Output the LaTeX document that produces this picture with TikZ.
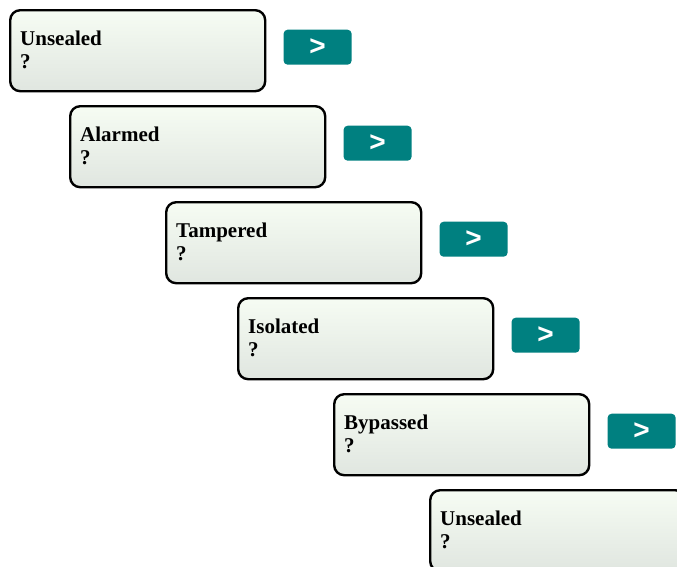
\documentclass[tikz,border=0pt]{standalone}
\usepackage{fontspec}
\setmainfont{Liberation Serif}
\newfontfamily\btnfont{Liberation Sans}
\usetikzlibrary{positioning, calc}
\definecolor{boxtop}{RGB}{246, 252, 243}
\definecolor{boxbottom}{RGB}{224, 230, 224}
\definecolor{btnteal}{RGB}{0, 128, 128}

\begin{document}
\begin{tikzpicture}[
  x=1pt, y=-1pt,
  statebox/.style={draw=black, line width=2.4pt, rounded corners=10pt,
    top color=boxtop, bottom color=boxbottom,
    minimum width=255pt, minimum height=81pt, inner sep=0pt, anchor=north west},
  statetext/.style={anchor=base west, align=left, inner sep=0pt,
    font=\fontsize{21}{23}\selectfont\bfseries},
  nextbtn/.style={fill=btnteal, rounded corners=4pt, minimum width=68pt,
    minimum height=35pt, inner sep=0pt, text=white,
    font=\btnfont\fontsize{28}{28}\selectfont\bfseries}
]
  \useasboundingbox (0,0) rectangle (677,566);
  \clip (0,0) rectangle (677,566);

  % States
  \foreach \i/\x/\y/\lbl in {1/9/9/Unsealed, 2/69/105/Alarmed, 3/165/201/Tampered,
      4/237/297/Isolated, 5/333/393/Bypassed, 6/429/489/Unsealed} {
    \node[statebox] (s\i) at (\x, \y) {};
    \node[statetext] (t\i) at ($(s\i.north west)+(11,59)$) {\lbl\\?};
  }

  % Next buttons
  \foreach \i in {1,...,5} {
    \node[nextbtn, right=17pt of s\i.east, yshift=3.5pt] (b\i) {>};
  }
\end{tikzpicture}
\end{document}
